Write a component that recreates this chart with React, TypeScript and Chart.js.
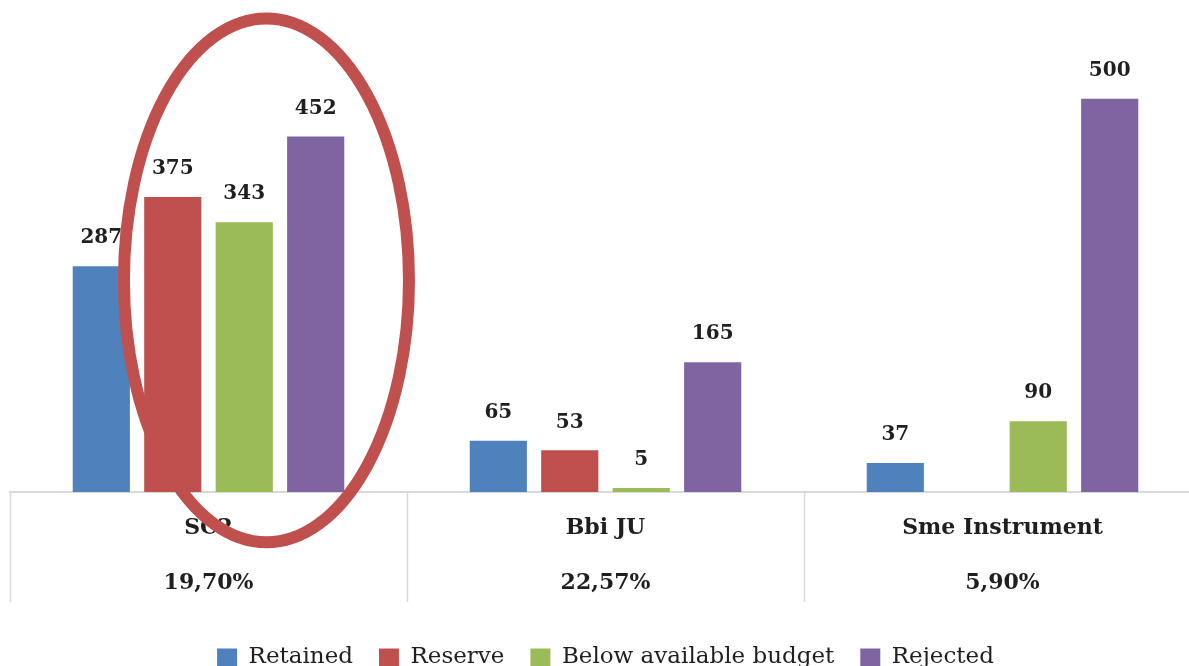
import React, { useEffect, useRef } from "react";
import { Chart, registerables } from "chart.js";

Chart.register(...registerables);

const categories = ["SC2", "Bbi JU", "Sme Instrument"];
const percentages = ["19,70%", "22,57%", "5,90%"];
const retained = [287, 65, 37];
const reserve: (number | null)[] = [375, 53, null];
const belowBudget = [343, 5, 90];
const rejected = [452, 165, 500];

const seriesNames = ["Retained", "Reserve", "Below available budget", "Rejected"];
const seriesColors = ["#4f81bd", "#c0504d", "#9bbb59", "#8064a2"];

const FONT = "'DejaVu Serif', 'Liberation Serif', serif";

const valueLabelsPlugin = {
  id: "valueLabels",
  afterDatasetsDraw(chart: any) {
    const ctx = chart.ctx;
    ctx.save();
    ctx.font = `bold 20px ${FONT}`;
    ctx.fillStyle = "#1f1f1f";
    ctx.textAlign = "center";
    ctx.textBaseline = "middle";
    chart.data.datasets.forEach((ds: any, di: number) => {
      const meta = chart.getDatasetMeta(di);
      meta.data.forEach((el: any, i: number) => {
        const v = ds.data[i];
        if (v === null || v === undefined) return;
        ctx.fillText(String(v), el.x, el.y - 28);
      });
    });
    ctx.restore();
  },
};

// vertical separators of the category table below the axis
const separatorsPlugin = {
  id: "categorySeparators",
  afterDraw(chart: any) {
    const x = chart.scales.x;
    const n = categories.length;
    const catW = (x.right - x.left) / n;
    const ctx = chart.ctx;
    ctx.save();
    ctx.strokeStyle = "#d9d9d9";
    ctx.lineWidth = 1.5;
    for (let k = 0; k <= n; k++) {
      const px = Math.round(x.left + k * catW) + 0.5;
      ctx.beginPath();
      ctx.moveTo(px, x.top);
      ctx.lineTo(px, x.top + 110);
      ctx.stroke();
    }
    ctx.restore();
  },
};

// Hand-drawn highlight around the first category
const highlight = { categoryIndex: 0, offsetFrac: 0.146, rxFrac: 0.359, cyValue: 269, ryValue: 333 };

const ellipsePlugin = {
  id: "ellipseHighlight",
  afterDraw(chart: any) {
    const x = chart.scales.x;
    const y = chart.scales.y;
    const catW = (x.right - x.left) / categories.length;
    const cx = x.getPixelForValue(highlight.categoryIndex) + highlight.offsetFrac * catW;
    const rx = highlight.rxFrac * catW;
    const cy = y.getPixelForValue(highlight.cyValue);
    const ry = Math.abs(y.getPixelForValue(0) - y.getPixelForValue(highlight.ryValue));
    const ctx = chart.ctx;
    ctx.save();
    ctx.beginPath();
    ctx.ellipse(cx, cy, rx, ry, 0, 0, Math.PI * 2);
    ctx.strokeStyle = "#c0504d";
    ctx.lineWidth = 12;
    ctx.stroke();
    ctx.restore();
  },
};

export default function App() {
  const ref = useRef<HTMLCanvasElement | null>(null);

  useEffect(() => {
    if (!ref.current) return;
    const values = [retained, reserve, belowBudget, rejected];
    const chart = new Chart(ref.current, {
      type: "bar",
      data: {
        labels: categories.map((c, i) => [c, percentages[i]]),
        datasets: seriesNames.map((name, i) => ({
          label: name,
          data: values[i] as any,
          backgroundColor: seriesColors[i],
          borderWidth: 0,
          categoryPercentage: 0.72,
          barPercentage: 0.8,
        })),
      },
      options: {
        animation: false,
        responsive: false,
        maintainAspectRatio: false,
        layout: { padding: { left: 10, right: 0, top: 20, bottom: 0 } },
        plugins: {
          legend: {
            position: "bottom",
            labels: {
              boxWidth: 20,
              boxHeight: 18,
              padding: 26,
              color: "#1f1f1f",
              font: { family: FONT, size: 23 },
            },
          },
          tooltip: { enabled: false },
        },
        scales: {
          x: {
            grid: {
              display: true,
              drawOnChartArea: false,
              drawTicks: false,
              tickLength: 0,
              color: "#d9d9d9",
            },
            border: { display: true, color: "#d9d9d9", width: 2 },
            ticks: {
              autoSkip: false,
              maxRotation: 0,
              padding: 9,
              color: "#1f1f1f",
              font: { family: FONT, size: 22, weight: "bold", lineHeight: 2.5 },
            },
          },
          y: {
            display: false,
            min: 0,
            max: 600,
          },
        },
      },
      plugins: [valueLabelsPlugin, separatorsPlugin, ellipsePlugin],
    } as any);
    return () => chart.destroy();
  }, []);

  return (
    <div
      style={{
        position: "fixed",
        left: 0,
        top: 0,
        width: 1189,
        height: 666,
        overflow: "hidden",
        background: "#ffffff",
      }}
    >
      <canvas ref={ref} width={1201} height={679} style={{ display: "block" }} />
    </div>
  );
}
